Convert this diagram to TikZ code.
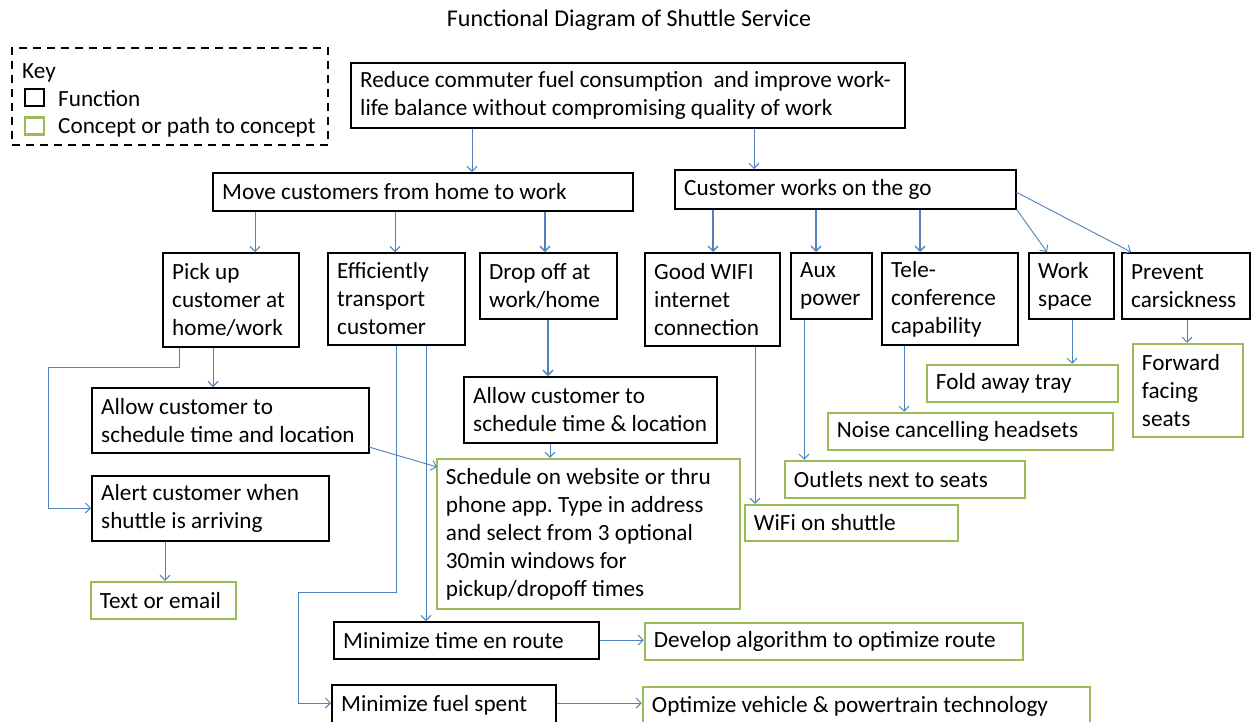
\documentclass[tikz,border=0pt]{standalone}
\usepackage{fontspec}
\setmainfont{Carlito}
\usetikzlibrary{arrows.meta}
\definecolor{cgreen}{RGB}{155,187,89}
\definecolor{cblue}{RGB}{79,129,189}
\frenchspacing
\newcommand\bx[7]{%
 \pgfmathsetmacro\bw{#5-#3}\pgfmathsetmacro\bh{#6-#4}%
 \pgfmathsetmacro\cx{(#3+#5)/2}\pgfmathsetmacro\cy{(#4+#6)/2}%
 \node[#1, minimum width=\bw pt, minimum height=\bh pt] (#2) at (\cx,\cy) {};
 \node[txt] (#2t) at ([xshift=10pt]#2.west) {#7};}
\tikzset{
 txt/.style={anchor=west, inner sep=0pt, align=left, font=\fontsize{23.2}{28}\selectfont},
 fn/.style={draw=black, line width=2pt, inner sep=0pt},
 cp/.style={draw=cgreen, line width=2.5pt, inner sep=0pt},
 arr/.style={draw=cblue, line width=0.9pt, -{Straight Barb[length=5pt,width=10pt]}},
 arrb/.style={arr, line width=1.3pt},
 lbl/.style={anchor=base west, inner sep=0pt, font=\fontsize{23.2}{26}\selectfont},
}
\begin{document}
\begin{tikzpicture}[x=1pt,y=-1pt]
\useasboundingbox[fill=white] (0,0) rectangle (1253,721);
\node[font=\fontsize{24}{28}\selectfont] (title) at (629,20) {Functional Diagram of Shuttle Service};
% key
\node[draw=black, line width=2pt, dash pattern=on 8pt off 6pt, minimum width=316pt, minimum height=97pt, inner sep=0pt] (key) at (170,96) {};
\node[lbl] (keyt) at (22,78) {Key};
\node[draw=black, line width=2.5pt, minimum width=19pt, minimum height=17pt, inner sep=0pt] (ksq1) at (34.5,97.5) {};
\node[draw=cgreen, line width=2.5pt, minimum width=19pt, minimum height=17pt, inner sep=0pt] (ksq2) at (34.5,126) {};
\node[lbl] (kf) at (58,106) {Function};
\node[lbl] (kc) at (58,133) {Concept or path to concept};
% function boxes
\bx{fn}{top}{351}{63}{905}{128}{Reduce commuter fuel consumption\ \ and improve work-\\life balance without compromising quality of work}
\bx{fn}{move}{213}{173}{633}{211}{Move customers from home to work}
\bx{fn}{works}{675}{170}{1016}{209}{Customer works on the go}
\bx{fn}{pick}{163}{253}{299}{347}{Pick up\\customer at\\home/work}
\bx{fn}{eff}{328}{253}{465}{345}{Efficiently\\transport\\customer}
\bx{fn}{drop}{480}{253}{617}{319}{Drop off at\\work/home}
\bx{fn}{wifi}{645}{253}{780}{346}{Good WIFI\\internet\\connection}
\bx{fn}{aux}{791}{253}{872}{319}{Aux\\power}
\bx{fn}{tele}{882}{253}{1018}{345}{Tele-\\conference\\capability}
\bx{fn}{work}{1029}{253}{1114}{319}{Work\\space}
\bx{fn}{prev}{1122}{253}{1250}{319}{Prevent\\carsickness}
\bx{fn}{allowp}{92}{388}{369}{453}{Allow customer to\\schedule time and location}
\bx{fn}{alert}{92}{476}{329}{541}{Alert customer when\\shuttle is arriving}
\bx{fn}{allowd}{464}{377}{717}{443}{Allow customer to\\schedule time \& location}
\bx{fn}{mintime}{334}{622}{599}{659}{Minimize time en route}
\bx{fn}{minfuel}{332}{685}{556}{725}{Minimize fuel spent}
% concept boxes
\bx{cp}{textm}{91}{582}{236}{619}{Text or email}
\bx{cp}{sched}{437}{459}{740}{609}{Schedule on website or thru\\phone app. Type in address\\and select from 3 optional\\30min windows for\\pickup/dropoff times}
\bx{cp}{wifis}{745}{505}{958}{541}{WiFi on shuttle}
\bx{cp}{outlets}{785}{461}{1025}{498}{Outlets next to seats}
\bx{cp}{noise}{828}{413}{1113}{450}{Noise cancelling headsets}
\bx{cp}{fold}{927}{365}{1118}{402}{Fold away tray}
\bx{cp}{fwd}{1133}{344}{1243}{437}{Forward\\facing\\seats}
\bx{cp}{develop}{645}{623}{1023}{660}{Develop algorithm to optimize route}
\bx{cp}{optim}{643}{687}{1090}{725}{Optimize vehicle \& powertrain technology}
% connectors
\draw[arr] (472,0 |- top.south) -- (472,0 |- move.north);
\draw[arr] (754,0 |- top.south) -- (754,0 |- works.north);
\draw[arr] (255,0 |- move.south) -- (255,0 |- pick.north);
\draw[arr] (395,0 |- move.south) -- (395,0 |- eff.north);
\draw[arrb] (545,0 |- move.south) -- (545,0 |- drop.north);
\draw[arrb] (713,0 |- works.south) -- (713,0 |- wifi.north);
\draw[arrb] (816,0 |- works.south) -- (816,0 |- aux.north);
\draw[arrb] (920,0 |- works.south) -- (920,0 |- tele.north);
\draw[arr] (works.south east) -- (1047,0 |- work.north);
\draw[arr] (1016,192) -- (1131,0 |- prev.north);
\draw[arr] (213,0 |- pick.south) -- (213,0 |- allowp.north);
\draw[arr] (179,0 |- pick.south) -- (179,367) -- (48,367) -- (48,508) -- (alert.west |- 0,508);
\draw[arr] (369,447) -- (437,467);
\draw[arr] (396,0 |- eff.south) -- (396,592) -- (298,592) -- (298,703) -- (minfuel.west |- 0,703);
\draw[arr] (426,0 |- eff.south) -- (426,0 |- mintime.north);
\draw[arrb] (548,0 |- drop.south) -- (548,0 |- allowd.north);
\draw[arr] (550,0 |- allowd.south) -- (550,0 |- sched.north);
\draw[arr] (165,0 |- alert.south) -- (165,0 |- textm.north);
\draw[arr] (mintime.east |- 0,640) -- (develop.west |- 0,640);
\draw[arr] (minfuel.east |- 0,703) -- (optim.west |- 0,703);
\draw[arr] (755,0 |- wifi.south) -- (755,0 |- wifis.north);
\draw[arr] (804,0 |- aux.south) -- (804,0 |- outlets.north);
\draw[arr] (904,0 |- tele.south) -- (904,0 |- noise.north);
\draw[arr] (1072,0 |- work.south) -- (1072,0 |- fold.north);
\draw[arr] (1187,0 |- prev.south) -- (1187,0 |- fwd.north);
\end{tikzpicture}
\end{document}
